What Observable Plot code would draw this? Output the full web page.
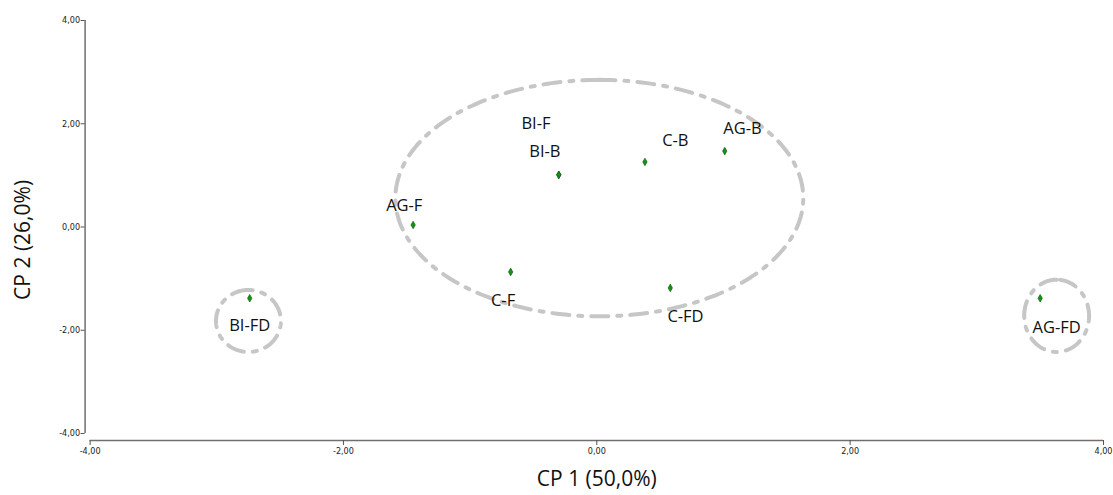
<!DOCTYPE html>
<html>
<head>
<meta charset="utf-8">
<script src="https://cdn.jsdelivr.net/npm/d3@7"></script>
<script src="https://cdn.jsdelivr.net/npm/@observablehq/plot@0.6"></script>
<style>
  html, body { margin: 0; padding: 0; background: #fff; }
  #chart svg { display: block; }
</style>
</head>
<body>
<div id="chart"></div>
<script>
// Sample labels and PCA scores
const labels = ["AG-F", "BI-B", "BI-F", "C-B", "AG-B", "C-F", "C-FD", "BI-FD", "AG-FD"];
const cp1 = [-1.45, -0.30, -0.30, 0.38, 1.01, -0.68, 0.58, -2.74, 3.50];
const cp2 = [0.04, 1.01, 1.01, 1.26, 1.47, -0.87, -1.18, -1.38, -1.38];
// label anchor positions (data units)
const labelX = [-1.52, -0.41, -0.48, 0.62, 1.15, -0.74, 0.70, -2.74, 3.63];
const labelY = [0.42, 1.45, 2.00, 1.68, 1.90, -1.43, -1.74, -1.91, -1.96];

// Group ellipses (data units)
const ellCx = [0.02, -2.75, 3.63];
const ellCy = [0.56, -1.82, -1.72];
const ellRx = [1.61, 0.256, 0.256];
const ellRy = [2.29, 0.60, 0.70];

// Axis ticks
const ticks = [-4, -2, 0, 2, 4];
const xTitle = "CP 1 (50,0%)";
const yTitle = "CP 2 (26,0%)";

const fmt = d => d.toFixed(2).replace(".", ",");

// Build ellipse outlines
const ellPts = [];
ellCx.forEach((cx, k) => {
  const n = 240;
  for (let j = 0; j <= n; j++) {
    const t = Math.PI / 2 + (j / n) * 2 * Math.PI;
    ellPts.push({g: k, x: cx + ellRx[k] * Math.cos(t), y: ellCy[k] + ellRy[k] * Math.sin(t)});
  }
});

const idx = labels.map((d, i) => i);

const chart = Plot.plot({
  width: 1113,
  height: 495,
  marginLeft: 89.6,
  marginRight: 10,
  marginTop: 20,
  marginBottom: 62,
  style: {background: "#fff", fontFamily: "'Open Sans', sans-serif"},
  x: {domain: [-4, 4]},
  y: {domain: [-4, 4]},
  marks: [
    Plot.line(ellPts, {x: "x", y: "y", z: "g", stroke: "#c6c6c6", strokeWidth: 4, strokeDasharray: "17,9,4,9"}),
    Plot.ruleX([-4], {y1: -4, y2: 4, dx: -5, stroke: "#6f6f6f", strokeWidth: 1.5}),
    Plot.ruleY([-4], {x1: -4, x2: 4, dy: 7, stroke: "#6f6f6f", strokeWidth: 1.5}),
    Plot.axisY({ticks, tickFormat: fmt, tickSize: 4, tickPadding: 1, dx: -5, label: null,
      fontSize: 9, fontFamily: "'Liberation Sans Narrow', 'DejaVu Sans Condensed', sans-serif", stroke: "#555", color: "#222"}),
    Plot.axisX({ticks, tickFormat: fmt, tickSize: 5, tickPadding: 2, dy: 7, label: null,
      fontSize: 9, fontFamily: "'Liberation Sans Narrow', 'DejaVu Sans Condensed', sans-serif", stroke: "#555", color: "#222"}),
    Plot.dot(idx, {x: i => cp1[i], y: i => cp2[i], symbol: "diamond", r: 2.3, fill: "#139413", stroke: "#0a4f0a", strokeWidth: 0.6}),
    Plot.text(idx, {x: i => labelX[i], y: i => labelY[i], text: i => labels[i], fontSize: 16.5, fill: "#111", fontFamily: "'Open Sans', sans-serif"}),
    Plot.text([xTitle], {frameAnchor: "bottom", textAnchor: "middle", text: d => d, dy: 52, fontSize: 21, fill: "#111"}),
    Plot.text([yTitle], {x: -4, y: -0.25, textAnchor: "middle", text: d => d, rotate: -90, dx: -67, fontSize: 21, fill: "#111"})
  ]
});
document.getElementById("chart").appendChild(chart);
</script>
</body>
</html>
